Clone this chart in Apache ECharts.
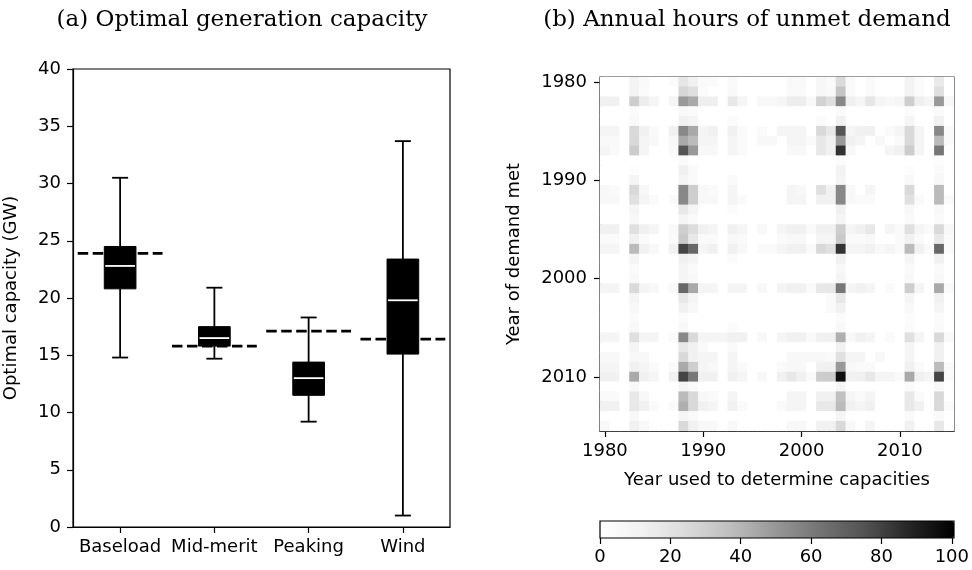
<!DOCTYPE html>
<html>
<head>
<meta charset="utf-8">
<script src="https://cdn.jsdelivr.net/npm/echarts@6/dist/echarts.min.js"></script>
<style>
html,body{margin:0;padding:0;background:#fff;}
#chart{width:972px;height:570px;}
</style>
</head>
<body>
<div id="chart"></div>
<script>
// ---- Panel (a) data ----
var technologies = ['Baseload', 'Mid-merit', 'Peaking', 'Wind'];
var whiskerLow  = [14.8, 14.7, 9.2, 1.0];
var quartile1   = [20.8, 15.8, 11.5, 15.1];
var medians     = [22.8, 16.5, 13.0, 19.8];
var quartile3   = [24.5, 17.5, 14.4, 23.4];
var whiskerHigh = [30.5, 20.9, 18.3, 33.7];
var referenceCapacity = [23.9, 15.8, 17.1, 16.4];
var capacityTicks = [0, 5, 10, 15, 20, 25, 30, 35, 40];

// ---- Panel (b) data ----
var years = ['1980','1981','1982','1983','1984','1985','1986','1987','1988','1989',
             '1990','1991','1992','1993','1994','1995','1996','1997','1998','1999',
             '2000','2001','2002','2003','2004','2005','2006','2007','2008','2009',
             '2010','2011','2012','2013','2014','2015'];
var colorbarTicks = [0, 20, 40, 60, 80, 100];
// rows: year of demand met (1980..2015); columns: year used to determine capacities (1980..2015)
var unmetHours = [
[0,0,0,10,4,0,0,3,18,12,4,3,0,4,0,0,0,0,0,5,5,0,7,4,24,4,0,4,0,0,0,10,3,0,16,0],
[0,0,0,10,3,0,0,0,26,22,3,0,0,5,0,0,0,0,0,4,4,0,7,5,34,4,0,4,0,0,0,10,3,0,22,0],
[12,12,0,30,14,8,0,8,49,44,13,13,0,17,8,0,6,6,8,14,14,6,28,22,55,13,8,18,8,6,8,30,13,8,49,6],
[0,0,0,3,0,0,0,0,5,3,0,0,0,0,0,0,0,0,0,0,0,0,0,0,4,0,0,0,0,0,0,3,0,0,4,0],
[0,0,0,5,0,0,0,0,12,8,0,0,0,3,0,0,0,0,0,0,0,0,3,0,12,0,0,0,0,0,0,8,0,0,12,0],
[8,8,0,25,12,4,0,12,55,44,8,12,0,12,4,0,4,0,8,8,8,0,25,17,74,8,12,12,0,4,8,25,8,0,55,4],
[5,5,0,25,8,6,0,6,44,38,8,8,0,8,4,0,6,6,0,8,8,4,17,12,49,12,8,0,6,0,4,25,8,0,38,4],
[8,4,0,31,8,0,0,4,74,49,6,6,0,8,4,0,0,0,0,6,6,0,17,12,84,6,0,0,0,8,12,31,8,0,61,0],
[0,0,0,0,0,0,0,0,3,0,0,0,0,0,0,0,0,0,0,0,0,0,0,0,3,0,0,0,0,0,0,0,0,0,2,0],
[0,0,0,2,0,0,0,0,12,4,0,0,0,0,0,0,0,0,0,0,0,0,0,0,10,0,0,0,0,0,0,2,0,0,4,0],
[0,0,0,8,0,0,0,0,8,4,0,0,0,4,0,0,0,0,0,0,0,0,0,0,8,0,0,0,0,0,0,6,0,0,6,0],
[6,4,0,25,6,0,0,0,55,30,6,4,0,8,0,0,0,0,0,8,6,0,21,12,55,6,0,8,0,0,0,25,0,0,38,0],
[6,6,0,21,8,4,0,4,55,30,6,6,0,8,4,0,0,0,0,8,8,0,12,12,55,6,4,4,0,0,0,21,4,0,38,4],
[0,0,0,8,0,0,0,0,17,8,0,0,0,3,0,0,0,0,0,0,0,0,0,0,12,0,0,0,0,0,0,6,0,0,6,0],
[0,0,0,6,0,0,0,0,8,4,0,0,0,0,0,0,0,0,0,0,0,0,0,0,8,0,0,0,0,0,0,4,0,0,4,0],
[12,12,0,21,12,8,0,6,30,23,12,8,0,12,8,0,6,0,8,12,12,4,12,12,30,8,12,17,0,8,4,21,8,4,25,6],
[4,4,0,12,4,0,0,4,32,17,4,4,0,6,4,0,0,0,4,6,6,0,8,8,32,4,4,6,0,0,4,12,4,0,17,4],
[8,8,0,38,12,6,0,12,79,67,8,12,0,12,6,0,4,4,8,12,12,4,25,21,84,8,8,12,6,8,4,38,12,4,67,4],
[0,0,0,8,0,0,0,0,12,8,0,0,0,3,0,0,0,0,0,0,0,0,0,0,12,0,0,0,0,0,0,8,0,0,12,0],
[0,0,0,4,0,0,0,0,8,4,0,0,0,0,0,0,0,0,0,0,0,0,0,0,6,0,0,0,0,0,0,4,0,0,4,0],
[0,0,0,6,0,0,0,0,8,6,0,0,0,0,0,0,0,0,0,0,0,0,0,0,8,0,0,0,0,0,0,6,0,0,6,0],
[8,8,0,25,8,6,0,6,67,44,8,8,0,8,8,0,6,0,8,12,12,4,17,17,61,8,12,8,0,4,0,30,8,0,44,4],
[0,0,0,8,0,0,0,0,17,8,0,0,0,0,0,0,0,0,0,0,0,0,0,4,17,0,0,0,0,0,0,8,0,0,12,0],
[0,0,0,6,0,0,0,0,12,6,0,0,0,0,0,0,0,0,0,0,0,0,0,4,12,0,0,0,0,0,0,6,0,0,8,0],
[0,0,0,3,0,0,0,0,3,0,0,0,0,0,0,0,0,0,0,0,0,0,0,0,3,0,0,0,0,0,0,3,0,0,3,0],
[0,0,0,6,0,0,0,0,6,0,0,0,0,3,0,0,0,0,0,0,0,0,0,0,6,0,0,0,0,0,0,4,0,0,4,0],
[8,8,0,21,8,8,0,4,55,25,8,8,8,12,12,0,6,0,8,12,12,4,12,12,42,6,12,8,0,4,0,21,8,0,25,4],
[0,0,0,8,0,0,0,0,17,12,4,0,0,4,0,0,0,0,0,0,0,0,0,0,12,0,0,0,0,0,0,8,0,0,12,0],
[6,6,0,6,6,0,0,0,25,12,8,8,0,8,0,0,0,0,0,6,6,6,6,4,21,8,8,0,6,0,0,8,0,0,12,0],
[8,8,0,12,8,4,0,4,44,30,8,6,0,8,4,0,0,0,4,6,6,0,12,12,49,6,4,4,0,0,0,12,4,0,38,4],
[12,12,0,44,12,8,0,12,79,61,12,12,0,12,8,0,6,0,12,17,12,4,31,31,95,12,12,17,8,8,4,44,12,8,79,4],
[0,0,0,6,0,0,0,0,8,4,0,0,0,0,0,0,0,0,0,0,0,0,0,0,8,0,0,0,0,0,0,4,0,0,6,0],
[4,4,0,17,6,0,0,0,38,25,6,4,0,8,0,0,0,0,0,8,8,0,12,12,36,8,4,8,0,0,0,17,4,0,25,0],
[12,12,0,17,12,4,0,4,42,25,12,8,0,12,4,0,0,0,4,8,8,0,17,17,38,12,8,12,0,0,0,17,12,0,25,4],
[0,0,0,6,0,0,0,0,8,4,0,0,0,0,0,0,0,0,0,0,0,0,0,0,8,0,0,0,0,0,0,4,0,0,4,0],
[6,0,0,12,6,0,0,0,25,12,6,6,0,6,0,0,0,0,0,6,6,0,12,12,25,6,0,8,0,0,0,12,0,0,17,0]
];

// ---- build library data ----
var boxData = technologies.map(function (t, i) {
  return [i, whiskerLow[i], quartile1[i], medians[i], quartile3[i], whiskerHigh[i], referenceCapacity[i]];
});
var heatData = [];
unmetHours.forEach(function (row, r) {
  row.forEach(function (v, c) { heatData.push([c, r, v]); });
});

var FONT = 'DejaVu Sans';
var TICK = 18;
var greys = ['#ffffff','#f0f0f0','#d9d9d9','#bdbdbd','#969696','#737373','#525252','#252525','#000000'];

var chart = echarts.init(document.getElementById('chart'), null, {renderer: 'canvas'});

function renderBox(params, api) {
  var x = api.value(0);
  var bw = api.size([1, 0])[0];
  var lo = api.coord([x, api.value(1)]);
  var q1 = api.coord([x, api.value(2)]);
  var md = api.coord([x, api.value(3)]);
  var q3 = api.coord([x, api.value(4)]);
  var hi = api.coord([x, api.value(5)]);
  var rf = api.coord([x, api.value(6)]);
  var cx = lo[0];
  var boxHalf = bw * 0.168;
  var capHalf = bw * 0.085;
  var dashHalf = bw * 0.45;
  var lineStyle = {stroke: '#000', lineWidth: 1.8};
  return {
    type: 'group',
    children: [
      {type: 'line', shape: {x1: cx, y1: lo[1], x2: cx, y2: q1[1]}, style: lineStyle},
      {type: 'line', shape: {x1: cx, y1: q3[1], x2: cx, y2: hi[1]}, style: lineStyle},
      {type: 'line', shape: {x1: cx - capHalf, y1: lo[1], x2: cx + capHalf, y2: lo[1]}, style: lineStyle},
      {type: 'line', shape: {x1: cx - capHalf, y1: hi[1], x2: cx + capHalf, y2: hi[1]}, style: lineStyle},
      {type: 'rect', shape: {x: cx - boxHalf, y: q3[1], width: boxHalf * 2, height: q1[1] - q3[1]},
        style: {fill: '#000', stroke: '#000', lineWidth: 1}},
      {type: 'line', shape: {x1: cx - boxHalf + 1, y1: md[1], x2: cx + boxHalf - 1, y2: md[1]},
        style: {stroke: '#fff', lineWidth: 1.8}},
      {type: 'line', shape: {x1: cx - dashHalf, y1: rf[1], x2: cx + dashHalf, y2: rf[1]},
        style: {stroke: '#000', lineWidth: 2.7, lineDash: [10.5, 4.5]}, z2: 5}
    ]
  };
}

var axisLineStyle = {show: true, lineStyle: {color: '#000', width: 1.2}};
var tickStyle = {color: '#000', width: 1.2};

var option = {
  animation: false,
  backgroundColor: '#fff',
  textStyle: {fontFamily: FONT, color: '#000'},
  grid: [
    {left: 73, top: 69, width: 377, height: 458, show: true, borderColor: '#000', borderWidth: 1.2, backgroundColor: 'transparent'},
    {left: 600, top: 77, width: 354, height: 354, show: true, borderColor: '#000', borderWidth: 1.2, backgroundColor: 'transparent'},
    {left: 600, top: 521, width: 354, height: 17, show: false}
  ],
  xAxis: [
    {gridIndex: 0, type: 'category', data: technologies, boundaryGap: true,
      axisLine: axisLineStyle,
      axisTick: {show: true, alignWithLabel: true, length: 6, lineStyle: tickStyle},
      axisLabel: {color: '#000', fontSize: TICK, fontFamily: FONT, margin: 11, interval: 0},
      splitLine: {show: false}},
    {gridIndex: 1, type: 'category', data: years, boundaryGap: true,
      axisLine: axisLineStyle,
      axisTick: {show: true, alignWithLabel: true, interval: 9, length: 6, lineStyle: tickStyle},
      axisLabel: {color: '#000', fontSize: TICK, fontFamily: FONT, margin: 11, interval: 9},
      name: 'Year used to determine capacities', nameLocation: 'middle', nameGap: 40,
      nameTextStyle: {color: '#000', fontSize: TICK, fontFamily: FONT},
      splitLine: {show: false}},
    {gridIndex: 2, type: 'value', min: 0, max: 100, interval: 20,
      axisLine: {show: false},
      axisTick: {show: true, length: 6, lineStyle: tickStyle},
      axisLabel: {color: '#000', fontSize: TICK, fontFamily: FONT, margin: 10,
        formatter: function (v) { return colorbarTicks.indexOf(v) >= 0 ? String(v) : ''; }},
      splitLine: {show: false}}
  ],
  yAxis: [
    {gridIndex: 0, type: 'value', min: 0, max: 40, interval: 5,
      axisLine: axisLineStyle,
      axisTick: {show: true, length: 6, lineStyle: tickStyle},
      axisLabel: {color: '#000', fontSize: TICK, fontFamily: FONT, margin: 12,
        formatter: function (v) { return capacityTicks.indexOf(v) >= 0 ? String(v) : ''; }},
      name: 'Optimal capacity (GW)', nameLocation: 'middle', nameGap: 53,
      nameTextStyle: {color: '#000', fontSize: TICK, fontFamily: FONT},
      splitLine: {show: false}},
    {gridIndex: 1, type: 'category', data: years, inverse: true, boundaryGap: true,
      axisLine: axisLineStyle,
      axisTick: {show: true, alignWithLabel: true, interval: 9, length: 6, lineStyle: tickStyle},
      axisLabel: {color: '#000', fontSize: TICK, fontFamily: FONT, margin: 13, interval: 9},
      name: 'Year of demand met', nameLocation: 'middle', nameGap: 77,
      nameTextStyle: {color: '#000', fontSize: TICK, fontFamily: FONT},
      splitLine: {show: false}},
    {gridIndex: 2, type: 'value', min: 0, max: 1, show: false}
  ],
  visualMap: {
    type: 'continuous', min: 0, max: 100, seriesIndex: 1,
    orient: 'horizontal', left: 600, top: 521, itemWidth: 17, itemHeight: 354,
    padding: 0, calculable: false, hoverLink: false, showLabel: false, text: ['', ''],
    inRange: {color: greys}
  },
  graphic: [
    {type: 'text', x: 242, y: 20, style: {text: '(a) Optimal generation capacity', font: '23px "DejaVu Serif"', fill: '#000', textAlign: 'center', textVerticalAlign: 'middle'}},
    {type: 'text', x: 747, y: 20, style: {text: '(b) Annual hours of unmet demand', font: '23px "DejaVu Serif"', fill: '#000', textAlign: 'center', textVerticalAlign: 'middle'}},
    {type: 'rect', shape: {x: 600, y: 521, width: 354, height: 17}, style: {fill: 'none', stroke: '#000', lineWidth: 1.2}, z: 100}
  ],
  series: [
    {type: 'custom', xAxisIndex: 0, yAxisIndex: 0, data: boxData, renderItem: renderBox,
      encode: {x: 0, y: [1, 2, 3, 4, 5, 6]}, silent: true},
    {type: 'heatmap', xAxisIndex: 1, yAxisIndex: 1, data: heatData, silent: true,
      itemStyle: {borderWidth: 0}, emphasis: {disabled: true}}
  ]
};
chart.setOption(option);
</script>
</body>
</html>
